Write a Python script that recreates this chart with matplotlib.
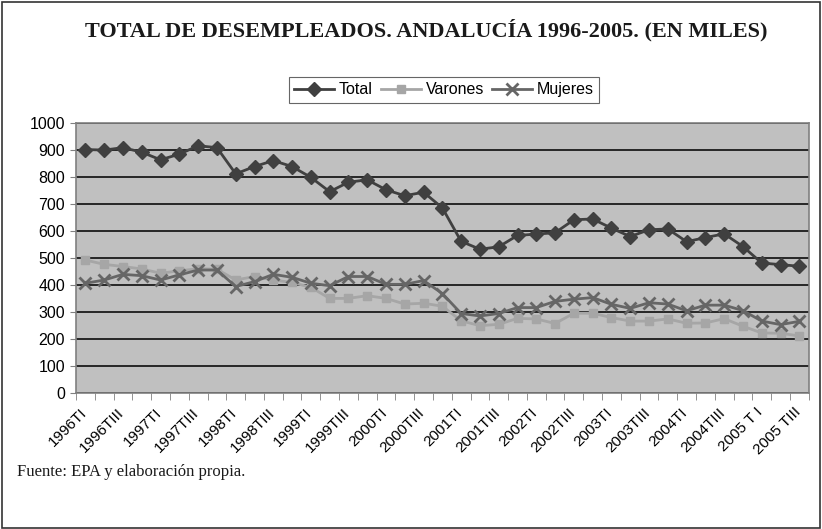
import matplotlib.pyplot as plt
from matplotlib.patches import Rectangle
from matplotlib.transforms import ScaledTranslation

quarters = ['1996TI', '1996TII', '1996TIII', '1996TIV',
            '1997TI', '1997TII', '1997TIII', '1997TIV',
            '1998TI', '1998TII', '1998TIII', '1998TIV',
            '1999TI', '1999TII', '1999TIII', '1999TIV',
            '2000TI', '2000TII', '2000TIII', '2000TIV',
            '2001TI', '2001TII', '2001TIII', '2001TIV',
            '2002TI', '2002TII', '2002TIII', '2002TIV',
            '2003TI', '2003TII', '2003TIII', '2003TIV',
            '2004TI', '2004TII', '2004TIII', '2004TIV',
            '2005 T I', '2005 TII', '2005 TIII']
total = [900, 898, 907, 890, 862, 883, 914, 907, 810, 837, 859, 837, 797,
         744, 779, 788, 751, 729, 742, 684, 560, 531, 540, 582, 587, 592,
         640, 643, 609, 578, 603, 606, 559, 574, 588, 541, 480, 474, 468]
varones = [491, 475, 467, 458, 442, 451, 459, 457, 417, 430, 417, 408, 390,
           349, 349, 359, 349, 328, 331, 320, 266, 248, 253, 275, 273, 256,
           294, 294, 278, 265, 265, 273, 257, 258, 274, 246, 221, 220, 210]
mujeres = [405, 417, 438, 433, 417, 436, 454, 454, 393, 411, 438, 427, 405,
           396, 430, 430, 401, 401, 415, 367, 293, 284, 293, 315, 315, 338,
           346, 352, 327, 312, 333, 328, 303, 324, 324, 304, 265, 252, 264]

fig = plt.figure(figsize=(8.22, 5.29), dpi=100)
ax = fig.add_axes([0.0925, 0.2577, 0.8913, 0.5107])
ax.set_facecolor('#c0c0c0')

x = range(len(quarters))
ax.plot(x, total, color='#404040', lw=2, marker='D', ms=7, label='Total', zorder=5)
ax.plot(x, varones, color='#a6a6a6', lw=2, marker='s', ms=6, label='Varones', zorder=3)
ax.plot(x, mujeres, color='#666666', lw=2, marker='x', ms=9, mew=2, label='Mujeres', zorder=4)

ax.set_ylim(0, 1000)
ax.set_xlim(-0.5, len(quarters) - 0.5)
ax.set_yticks(range(0, 1001, 100))
ax.yaxis.grid(True, color='#1a1a1a', lw=1.3)
ax.set_axisbelow(True)
ax.tick_params(axis='y', labelsize=11.5, length=4, color='#808080', pad=4)

ax.set_xticks(range(0, len(quarters), 2))
ax.set_xticklabels(quarters[::2], rotation=45, ha='right', va='top',
                   rotation_mode='anchor', fontsize=11)
ax.set_xticks([i - 0.5 for i in range(len(quarters) + 1)], minor=True)
ax.tick_params(axis='x', which='major', length=0, pad=9)
ax.tick_params(axis='x', which='minor', length=5, color='#808080')
shift = ScaledTranslation(-6 / 100, 0, fig.dpi_scale_trans)
for t in ax.get_xticklabels():
    t.set_transform(t.get_transform() + shift)
for s in ax.spines.values():
    s.set_color('#808080')
    s.set_linewidth(1.2)

for t in ax.get_xticklabels() + ax.get_yticklabels():
    t.set_family('Liberation Sans')

fig.text(0.518, 0.943, 'TOTAL DE DESEMPLEADOS. ANDALUCÍA 1996-2005. (EN MILES)',
         ha='center', va='center', family='Liberation Serif', weight='bold',
         fontsize=16, color='#1a1a1a')
leg = fig.legend(loc='center', bbox_to_anchor=(0.540, 0.830), ncol=3,
                 prop={'family': 'Liberation Sans', 'size': 11.5},
                 frameon=True, fancybox=False, edgecolor='#404040',
                 handlelength=2.5, handletextpad=0.3, columnspacing=0.5,
                 borderpad=0.35)
leg.get_frame().set_linewidth(0.8)
fig.text(0.021, 0.107, 'Fuente: EPA y elaboración propia.', ha='left', va='center',
         family='Liberation Serif', fontsize=12, color='#1a1a1a')

fig.patches.append(Rectangle((0.002, 0.002), 0.996, 0.994, transform=fig.transFigure,
                             fill=False, edgecolor='#333333', lw=1.2))

fig.savefig('out.png', dpi=100)
